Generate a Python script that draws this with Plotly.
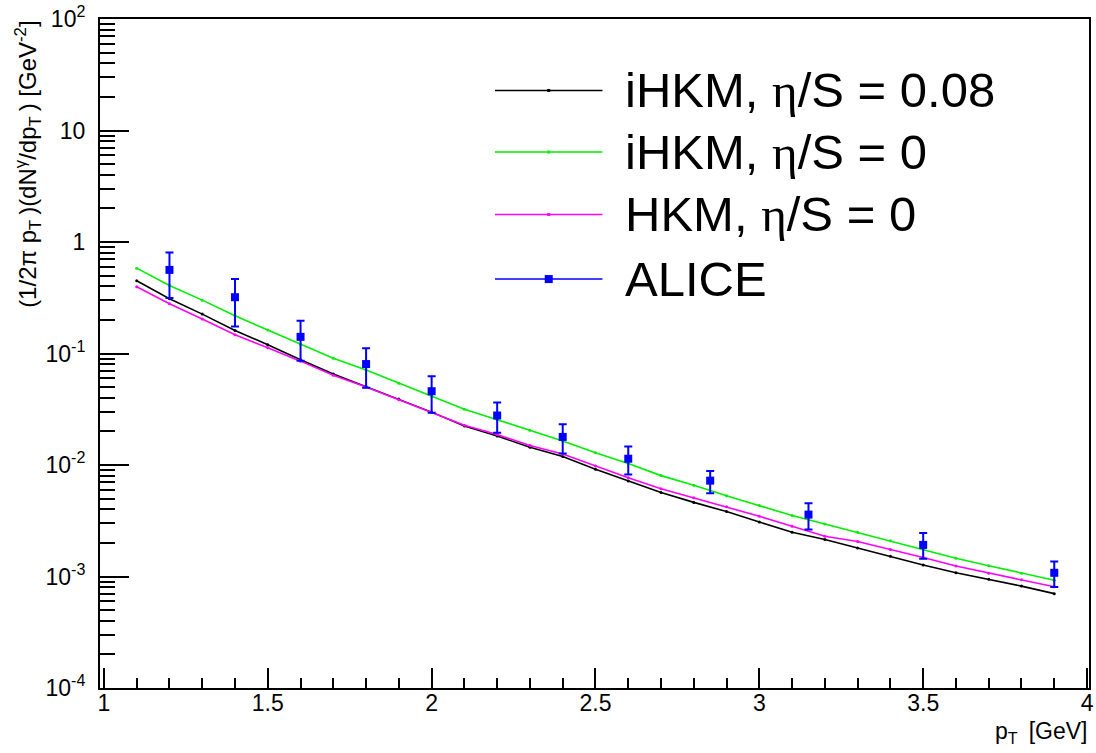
import plotly.graph_objects as go

# ---------------- data ----------------
pt_model = [1.1, 1.2, 1.3, 1.4, 1.5, 1.6, 1.7, 1.8, 1.9, 2.0,
            2.1, 2.2, 2.3, 2.4, 2.5, 2.6, 2.7, 2.8, 2.9, 3.0,
            3.1, 3.2, 3.3, 3.4, 3.5, 3.6, 3.7, 3.8, 3.9]

ihkm_008 = [0.449, 0.310, 0.2255, 0.161, 0.120, 0.0879, 0.0655, 0.0505, 0.0390, 0.0298,
            0.0224, 0.0182, 0.0144, 0.0119, 0.00914, 0.0072, 0.00567, 0.00462, 0.00382, 0.00308,
            0.00249, 0.00215, 0.00180, 0.00152, 0.00127, 0.00108, 0.000946, 0.00082, 0.000702]

ihkm_0 = [0.583, 0.408, 0.301, 0.218, 0.1625, 0.121, 0.0908, 0.0710, 0.0540, 0.0414,
          0.0316, 0.0255, 0.0205, 0.01644, 0.01288, 0.01033, 0.00803, 0.00659, 0.0053, 0.00434,
          0.00352, 0.00296, 0.00249, 0.00209, 0.00175, 0.00146, 0.00125, 0.00107, 0.000927]

hkm_0 = [0.397, 0.279, 0.2035, 0.1475, 0.1124, 0.0854, 0.0637, 0.0500, 0.0385, 0.0295,
         0.0227, 0.01875, 0.01496, 0.01253, 0.0098, 0.0077, 0.00611, 0.00508, 0.00423, 0.00347,
         0.00282, 0.0023, 0.00206, 0.00175, 0.00148, 0.00124, 0.00107, 0.000933, 0.000809]

pt_alice = [1.2, 1.4, 1.6, 1.8, 2.0, 2.2, 2.4, 2.6, 2.85, 3.15, 3.5, 3.9]
alice = [0.562, 0.320, 0.141, 0.0804, 0.0459, 0.0278, 0.01786, 0.01138, 0.00724, 0.00359, 0.00192, 0.00108]
alice_upper = [0.803, 0.466, 0.197, 0.1114, 0.0624, 0.0364, 0.0232, 0.01466, 0.00885, 0.00453, 0.00245, 0.00136]
alice_lower = [0.315, 0.175, 0.086, 0.0494, 0.0294, 0.0195, 0.01268, 0.0082, 0.00559, 0.00264, 0.00144, 0.000803]

y_tickvals = [1e-4, 1e-3, 1e-2, 1e-1, 1, 10, 100]
y_ticktext = ["10<sup>-4</sup>", "10<sup>-3</sup>", "10<sup>-2</sup>", "10<sup>-1</sup>",
              "1", "10", "10<sup>2</sup>"]
x_tickvals = [1, 1.5, 2, 2.5, 3, 3.5, 4]
x_ticktext = ["1", "1.5", "2", "2.5", "3", "3.5", "4"]

ETA = '<span style="font-family:Liberation Serif">η</span>'
legend_labels = ['iHKM, ' + ETA + '/S = 0.08',
                 'iHKM, ' + ETA + '/S = 0',
                 'HKM, ' + ETA + '/S = 0',
                 'ALICE']
colors = ["#000000", "#00ee00", "#ff00ff", "#0000ff"]

# ---------------- figure ----------------
FONT = "Liberation Sans, Arial, Helvetica, sans-serif"
fig = go.Figure()

for ys, c in zip([ihkm_008, ihkm_0, hkm_0], colors[:3]):
    fig.add_trace(go.Scatter(x=pt_model, y=ys, mode="lines+markers",
                             line=dict(color=c, width=1.6),
                             marker=dict(color=c, size=3, symbol="circle"),
                             showlegend=False))

err_plus = [u - v for u, v in zip(alice_upper, alice)]
err_minus = [v - l for v, l in zip(alice, alice_lower)]
fig.add_trace(go.Scatter(x=pt_alice, y=alice, mode="markers",
                         marker=dict(color=colors[3], size=8, symbol="square"),
                         error_y=dict(type="data", symmetric=False, array=err_plus,
                                      arrayminus=err_minus, color=colors[3],
                                      thickness=2, width=4),
                         showlegend=False))

# minor tick values for log axis
y_minor = [k * 10.0 ** n for n in range(-4, 2) for k in range(2, 10)]

fig.update_xaxes(type="linear", range=[0.988, 4.006],
                 tickmode="array", tickvals=x_tickvals, ticktext=x_ticktext,
                 ticks="inside", ticklen=20, tickwidth=1.5, tickcolor="black",
                 minor=dict(dtick=0.1, tick0=1, ticks="inside", ticklen=10,
                            tickwidth=1.5, tickcolor="black", showgrid=False),
                 showline=True, linecolor="black", linewidth=2, mirror=True,
                 showgrid=False, zeroline=False,
                 tickfont=dict(family=FONT, size=23, color="black"),
                 ticklabelstandoff=-7, ticklabeloverflow="allow")
fig.update_yaxes(type="log", range=[-4, 2],
                 tickmode="array", tickvals=y_tickvals, ticktext=y_ticktext,
                 ticks="inside", ticklen=29, tickwidth=1.5, tickcolor="black",
                 minor=dict(tickmode="array", tickvals=y_minor, ticks="inside",
                            ticklen=15, tickwidth=1.5, tickcolor="black",
                            showgrid=False),
                 showline=True, linecolor="black", linewidth=2, mirror=True,
                 showgrid=False, zeroline=False,
                 tickfont=dict(family=FONT, size=23, color="black"),
                 ticklabelstandoff=8, ticklabeloverflow="allow")

# manual ROOT-style legend
L, T, B, R = 100, 14, 65, 2
PW, PH = 1096 - L - R, 753 - T - B


def px(xp):
    return (xp - L) / PW


def py(yp):
    return (753 - B - yp) / PH


rows = [86, 148, 211, 276]
shapes = []
annotations = []
for i, (lab, c, yr) in enumerate(zip(legend_labels, colors, rows)):
    shapes.append(dict(type="line", xref="paper", yref="paper",
                       x0=px(497), x1=px(605), y0=py(yr), y1=py(yr),
                       line=dict(color=c, width=1.6)))
    s = 4 if i == 3 else 1.5
    shapes.append(dict(type="rect", xref="paper", yref="paper",
                       xsizemode="pixel", ysizemode="pixel",
                       xanchor=px(551), yanchor=py(yr),
                       x0=-s, x1=s, y0=-s, y1=s,
                       fillcolor=c, line=dict(color=c, width=0)))
    annotations.append(dict(text=lab, xref="paper", yref="paper",
                            x=px(626), y=py(yr), xanchor="left", yanchor="middle",
                            showarrow=False,
                            font=dict(family=FONT, size=49, color="black")))

TS = "\u2009"
annotations.append(dict(text="(1/2π p<sub>T</sub>" + TS + ")(dN<sup>γ</sup>/dp<sub>T</sub>" + TS + ") [GeV<sup>-2</sup>]",
                        xref="paper", yref="paper", x=px(27), y=1.0,
                        xanchor="center", yanchor="top", textangle=-90,
                        showarrow=False,
                        font=dict(family=FONT, size=24, color="black")))
annotations.append(dict(text="p<sub>T</sub>" + TS + " [GeV]",
                        xref="paper", yref="paper", x=px(1094), y=py(733),
                        xanchor="right", yanchor="middle",
                        showarrow=False,
                        font=dict(family=FONT, size=23, color="black")))

fig.update_layout(width=1096, height=753,
                  margin=dict(l=L, r=R, t=T, b=B),
                  paper_bgcolor="white", plot_bgcolor="white",
                  shapes=shapes, annotations=annotations,
                  showlegend=False)

fig.write_html("out.html", config={"displayModeBar": False},
               post_script="document.body.style.margin='0';document.body.style.padding='0';document.body.style.overflow='hidden';")
